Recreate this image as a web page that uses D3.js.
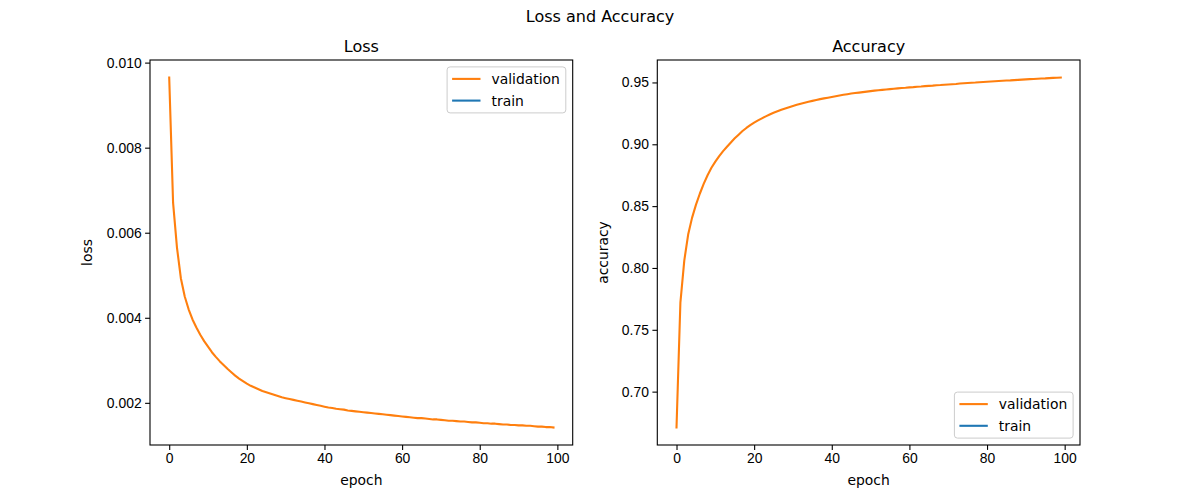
<!DOCTYPE html>
<html>
<head>
<meta charset="utf-8">
<script src="https://cdn.jsdelivr.net/npm/d3@7"></script>
<style>
  body { margin: 0; background: #fff; }
  svg { display: block; font-family: "DejaVu Sans", sans-serif; }
  .tick text { font-size: 13.9px; fill: #000; }
  .tick line { stroke: #000; stroke-width: 1.1px; }
  .domain { display: none; }
</style>
</head>
<body>
<div id="chart"></div>
<script>
const width = 1200;
const height = 500;

// values, one per epoch
const epochs = d3.range(100);

const valLoss = [
  0.00965, 0.00670, 0.00565, 0.00493, 0.00450, 0.00420, 0.00396, 0.00377, 0.00360, 0.00345,
  0.00332, 0.00319, 0.00308, 0.00298, 0.00289, 0.00280, 0.00272, 0.00264, 0.00257, 0.00251,
  0.00245, 0.00240, 0.00236, 0.00232, 0.00228, 0.00225, 0.00222, 0.00219, 0.00216, 0.00213,
  0.00211, 0.00209, 0.00207, 0.00205, 0.00203, 0.00201, 0.00199, 0.00197, 0.00195, 0.00193,
  0.00191, 0.00189, 0.00188, 0.00186, 0.00185, 0.00184, 0.00182, 0.00181, 0.00180, 0.00179,
  0.00178, 0.00177, 0.00176, 0.00175, 0.00174, 0.00173, 0.00172, 0.00171, 0.00170, 0.00169,
  0.00168, 0.00167, 0.00166, 0.00165, 0.00164, 0.00164, 0.00163, 0.00162, 0.00161, 0.00161,
  0.00160, 0.00159, 0.00158, 0.00158, 0.00157, 0.00156, 0.00156, 0.00155, 0.00154, 0.00154,
  0.00153, 0.00152, 0.00152, 0.00151, 0.00151, 0.00150, 0.00149, 0.00149, 0.00148, 0.00148,
  0.00147, 0.00147, 0.00146, 0.00146, 0.00145, 0.00144, 0.00144, 0.00143, 0.00143, 0.00142
];

const valAcc = [
  0.6710, 0.7720, 0.8060, 0.8270, 0.8405, 0.8510, 0.8600, 0.8680, 0.8750, 0.8810,
  0.8860, 0.8905, 0.8945, 0.8980, 0.9015, 0.9048, 0.9078, 0.9107, 0.9132, 0.9155,
  0.9175, 0.9193, 0.9210, 0.9226, 0.9241, 0.9255, 0.9267, 0.9279, 0.9290, 0.9300,
  0.9310, 0.9319, 0.9328, 0.9336, 0.9344, 0.9351, 0.9358, 0.9365, 0.9371, 0.9377,
  0.9383, 0.9389, 0.9395, 0.9400, 0.9405, 0.9410, 0.9414, 0.9418, 0.9422, 0.9426,
  0.9430, 0.9434, 0.9437, 0.9440, 0.9443, 0.9446, 0.9449, 0.9452, 0.9455, 0.9457,
  0.9460, 0.9462, 0.9465, 0.9467, 0.9470, 0.9472, 0.9474, 0.9477, 0.9479, 0.9482,
  0.9484, 0.9486, 0.9488, 0.9491, 0.9493, 0.9495, 0.9497, 0.9499, 0.9502, 0.9504,
  0.9506, 0.9508, 0.9510, 0.9512, 0.9514, 0.9516, 0.9517, 0.9519, 0.9521, 0.9523,
  0.9525, 0.9527, 0.9528, 0.9530, 0.9532, 0.9533, 0.9535, 0.9537, 0.9538, 0.9540
];

// train series is in the legend but draws nothing visible
const trainLoss = [];
const trainAcc = [];

const xTicks = [0, 20, 40, 60, 80, 100];
const lossTicks = [0.002, 0.004, 0.006, 0.008, 0.010];
const accTicks = [0.70, 0.75, 0.80, 0.85, 0.90, 0.95];

const orange = "#ff7f0e";
const blue = "#1f77b4";

const svg = d3.select("#chart")
  .append("svg")
  .attr("width", width)
  .attr("height", height);

svg.append("text")
  .attr("x", 600)
  .attr("y", 22)
  .attr("text-anchor", "middle")
  .style("font-size", "16px")
  .text("Loss and Accuracy");

const plotTop = 60, plotBottom = 445;
const panelW = 422.7;

function pad(ext) {
  const r = ext[1] - ext[0];
  return [ext[0] - r * 0.05, ext[1] + r * 0.05];
}

function panel(left, opts) {
  const g = svg.append("g");
  const right = left + panelW;

  const x = d3.scaleLinear().domain(pad([0, 99])).range([left, right]);
  const y = d3.scaleLinear().domain(pad(d3.extent(opts.values))).range([plotBottom, plotTop]);

  g.append("g")
    .attr("transform", `translate(0,${plotBottom})`)
    .call(d3.axisBottom(x).tickValues(xTicks).tickFormat(d3.format("d")).tickSize(4.9).tickPadding(3.5));

  g.append("g")
    .attr("transform", `translate(${left},0)`)
    .call(d3.axisLeft(y).tickValues(opts.ticks).tickFormat(d3.format(opts.fmt)).tickSize(4.9).tickPadding(3.5));

  const line = d3.line()
    .x((d, i) => x(epochs[i]))
    .y(d => y(d));

  g.append("path")
    .datum(opts.values)
    .attr("fill", "none")
    .attr("stroke", orange)
    .attr("stroke-width", 2.1)
    .attr("stroke-linejoin", "round")
    .attr("stroke-linecap", "square")
    .attr("d", line);

  if (opts.train.length) {
    g.append("path")
      .datum(opts.train)
      .attr("fill", "none")
      .attr("stroke", blue)
      .attr("stroke-width", 2.1)
      .attr("d", line);
  }

  g.append("rect")
    .attr("x", left)
    .attr("y", plotTop)
    .attr("width", panelW)
    .attr("height", plotBottom - plotTop)
    .attr("fill", "none")
    .attr("stroke", "#000")
    .attr("stroke-width", 1.1);

  g.append("text")
    .attr("x", (left + right) / 2)
    .attr("y", 52)
    .attr("text-anchor", "middle")
    .style("font-size", "16px")
    .text(opts.title);

  g.append("text")
    .attr("x", (left + right) / 2)
    .attr("y", 485)
    .attr("text-anchor", "middle")
    .style("font-size", "13.9px")
    .text("epoch");

  g.append("text")
    .attr("transform", `translate(${opts.ylabelX},${(plotTop + plotBottom) / 2}) rotate(-90)`)
    .attr("text-anchor", "middle")
    .style("font-size", "13.9px")
    .text(opts.ylabel);

  // legend
  const lw = 118.7, lh = 46;
  const lx = right - 6.9 - lw;
  const ly = opts.legendTop ? plotTop + 6.9 : plotBottom - 6.9 - lh;
  const lg = g.append("g").attr("transform", `translate(${lx},${ly})`);
  lg.append("rect")
    .attr("width", lw)
    .attr("height", lh)
    .attr("rx", 3)
    .attr("fill", "#fff")
    .attr("fill-opacity", 0.8)
    .attr("stroke", "#cccccc")
    .attr("stroke-width", 1);
  const items = [["validation", orange], ["train", blue]];
  lg.selectAll("g.item")
    .data(items)
    .join("g")
    .attr("class", "item")
    .attr("transform", (d, i) => `translate(0,${12 + i * 21.7})`)
    .each(function (d) {
      const it = d3.select(this);
      it.append("line")
        .attr("x1", 5).attr("x2", 33.4)
        .attr("y1", 0).attr("y2", 0)
        .attr("stroke", d[1])
        .attr("stroke-width", 2.1);
      it.append("text")
        .attr("x", 44.4)
        .attr("y", 5)
        .style("font-size", "13.9px")
        .text(d[0]);
    });
}

panel(150, {
  values: valLoss, train: trainLoss, ticks: lossTicks, fmt: ".3f",
  title: "Loss", ylabel: "loss", ylabelX: 92, legendTop: true
});

panel(657.3, {
  values: valAcc, train: trainAcc, ticks: accTicks, fmt: ".2f",
  title: "Accuracy", ylabel: "accuracy", ylabelX: 608, legendTop: false
});
</script>
</body>
</html>
